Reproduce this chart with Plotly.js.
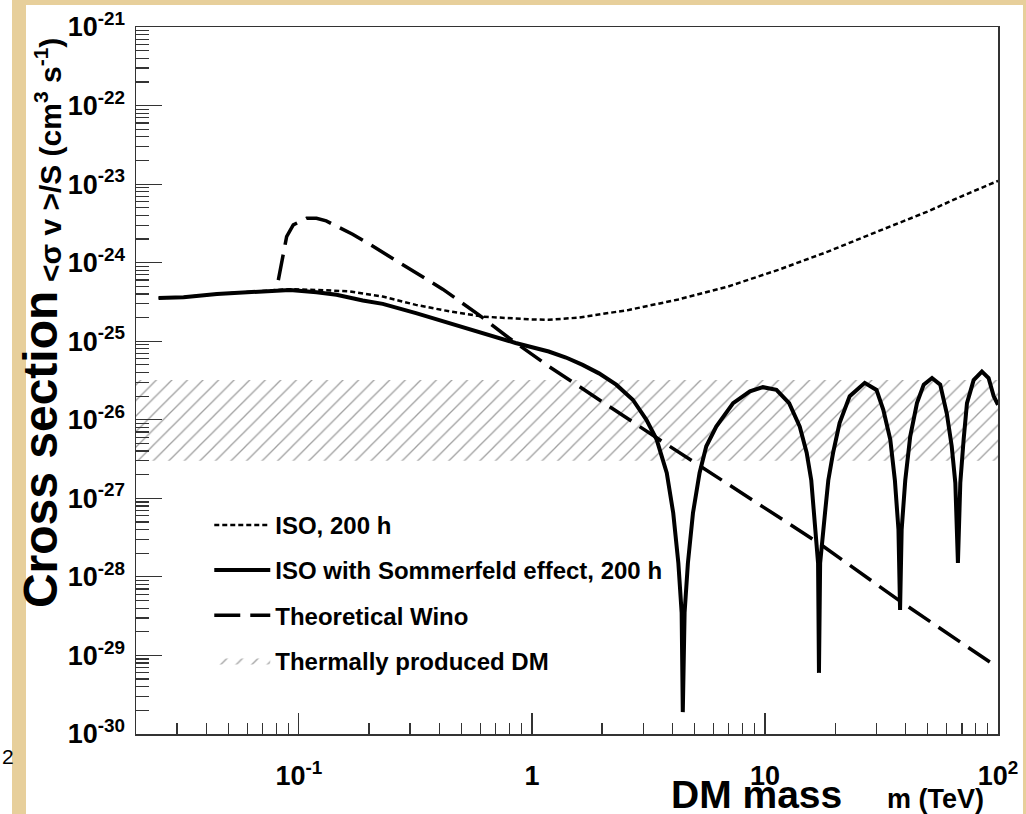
<!DOCTYPE html>
<html><head><meta charset="utf-8">
<script src="https://cdn.plot.ly/plotly-3.0.1.min.js"></script>
<style>
html,body{margin:0;padding:0;width:1026px;height:814px;overflow:hidden;background:#e7cf9b;}
#strip{position:absolute;left:0;top:0;width:12px;height:814px;background:#fff;}
#panel{position:absolute;left:26px;top:5px;width:997px;height:809px;background:#fff;}
#chart{position:absolute;left:0;top:0;width:1026px;height:814px;}
</style></head><body>
<div id="strip"></div><div id="panel"></div><div id="chart"></div>
<script>
// ---- data ----
const isoMass  = [0.025, 0.032, 0.0445, 0.0618, 0.0916, 0.119, 0.165, 0.229, 0.318, 0.442, 0.613, 0.97, 1.18, 1.59, 2.6, 4.25, 6.95, 11.4, 18.6, 30.4, 49.8, 69.0, 100];
const isoSigma = [3.56e-25, 3.64e-25, 4.0e-25, 4.25e-25, 4.6e-25, 4.5e-25, 4.3e-25, 3.7e-25, 2.9e-25, 2.4e-25, 2.06e-25, 1.9e-25, 1.87e-25, 2.0e-25, 2.5e-25, 3.4e-25, 4.97e-25, 8.1e-25, 1.38e-24, 2.49e-24, 4.47e-24, 6.9e-24, 1.1e-23];

const sommMass  = [0.025, 0.032, 0.0445, 0.0618, 0.0916, 0.119, 0.145, 0.188, 0.229, 0.318, 0.442, 0.613, 0.851, 1.18, 1.40, 1.65,
  1.94, 2.30, 2.71, 3.10, 3.43, 3.79, 4.04, 4.25, 4.39, 4.44, 4.52, 4.67, 4.91, 5.24, 5.60, 6.18, 7.30, 8.62, 9.8, 11.2, 12.7, 14.1, 15.1, 15.8, 16.3, 16.9, 17.05,
  17.25, 18.1, 18.7, 19.6, 20.9, 23.1, 26.8, 30.1, 32.2, 34.5, 36.1, 37.4, 38.0, 38.6, 40.0, 42.0, 44.9, 48.0, 52.1, 56.5, 60.3, 63.3, 65.6, 67.3,
  68.9, 71.2, 73.6, 78.6, 85.3, 91.1, 95.8, 100];
const sommSigma = [3.56e-25, 3.64e-25, 4.0e-25, 4.2e-25, 4.5e-25, 4.2e-25, 3.9e-25, 3.3e-25, 2.99e-25, 2.28e-25, 1.7e-25, 1.27e-25, 9.5e-26, 7.4e-26, 6.2e-26, 5.0e-26,
  3.9e-26, 2.8e-26, 1.8e-26, 1.0e-26, 5.6e-27, 2.1e-27, 6.5e-28, 1.5e-28, 3.5e-29, 1.9e-30, 3.5e-29, 1.5e-28, 6.5e-28, 2.1e-27, 4.6e-27, 8.2e-27, 1.63e-26, 2.3e-26, 2.6e-26, 2.4e-26, 1.63e-26, 8.2e-27, 3.8e-27, 1.7e-27, 5.4e-28, 1.5e-28, 6e-30,
  1.5e-28, 6.5e-28, 1.7e-27, 3.8e-27, 9.1e-27, 2.0e-26, 2.95e-26, 2.4e-26, 1.34e-26, 5.6e-27, 1.7e-27, 4.0e-28, 3.8e-29, 4.0e-28, 1.7e-27, 6.1e-27, 1.63e-26, 2.8e-26, 3.4e-26, 2.8e-26, 1.2e-26, 4.6e-27, 1.57e-27, 1.5e-28,
  1.57e-27, 5.6e-27, 1.63e-26, 3.2e-26, 4.1e-26, 3.4e-26, 2.0e-26, 1.55e-26];

const winoMass  = [0.0816, 0.0886, 0.0946, 0.108, 0.119, 0.131, 0.17, 0.198, 0.27, 0.318, 0.414, 0.594, 0.797, 1.18, 3.52, 17.0, 38.8, 100];
const winoSigma = [6.0e-25, 2.15e-24, 3.03e-24, 3.68e-24, 3.68e-24, 3.4e-24, 2.3e-24, 1.77e-24, 1.0e-24, 7.5e-25, 4.6e-25, 2.15e-25, 1.1e-25, 4.8e-26, 5.6e-27, 2.7e-28, 4.7e-29, 7.0e-30];

const thermalMass  = [0.02, 100];
const thermalSigma = [3e-27, 3.2e-26];

const seriesNames = ['ISO, 200 h', 'ISO with Sommerfeld effect, 200 h', 'Theoretical Wino', 'Thermally produced DM'];

const xTickVals = [0.1, 1, 10, 100];
const xTickText = ['10<sup>-1</sup>', '1', '10', '10<sup>2</sup>'];
const yTickVals = [1e-30, 1e-29, 1e-28, 1e-27, 1e-26, 1e-25, 1e-24, 1e-23, 1e-22, 1e-21];
const yTickText = ['10<sup>-30</sup>', '10<sup>-29</sup>', '10<sup>-28</sup>', '10<sup>-27</sup>', '10<sup>-26</sup>',
                   '10<sup>-25</sup>', '10<sup>-24</sup>', '10<sup>-23</sup>', '10<sup>-22</sup>', '10<sup>-21</sup>'];

// minor tick positions (axis decoration)
const minorDigits = [2, 3, 4, 5, 6, 7, 8, 9];
const xMinor = [], yMinor = [];
[-2, -1, 0, 1].forEach(e => minorDigits.forEach(d => { const v = d * Math.pow(10, e); if (v > 0.02 && v < 100) xMinor.push(v); }));
[-30, -29, -28, -27, -26, -25, -24, -23, -22].forEach(e => minorDigits.forEach(d => yMinor.push(d * Math.pow(10, e))));

const FONT = 'Liberation Sans, Arial, sans-serif';

const traces = [
  {
    name: seriesNames[3], legendrank: 4, legendgroup: 'd',
    x: [thermalMass[0], thermalMass[1], thermalMass[1], thermalMass[0], thermalMass[0]],
    y: [thermalSigma[0], thermalSigma[0], thermalSigma[1], thermalSigma[1], thermalSigma[0]],
    mode: 'lines', fill: 'toself', line: {width: 0, color: '#777'},
    fillcolor: 'rgba(255,255,255,0)',
    fillpattern: {shape: '/', fgcolor: '#a0a0a0', bgcolor: 'rgba(255,255,255,0)', size: 11, solidity: 0.12},
    hoverinfo: 'skip'
  },
  {
    name: seriesNames[0], legendrank: 1, legendgroup: 'a',
    x: isoMass, y: isoSigma, mode: 'lines',
    line: {color: '#000', width: 2.5, dash: '5px,3px'}, hoverinfo: 'skip'
  },
  {
    name: seriesNames[1], legendrank: 2, legendgroup: 'b',
    x: sommMass, y: sommSigma, mode: 'lines',
    line: {color: '#000', width: 4}, hoverinfo: 'skip'
  },
  {
    name: seriesNames[2], legendrank: 3, legendgroup: 'c',
    x: winoMass, y: winoSigma, mode: 'lines',
    line: {color: '#000', width: 3.5, dash: '26px,10px'}, hoverinfo: 'skip'
  }
];

const axisCommon = {
  type: 'log', tickmode: 'array', ticks: 'inside', tickcolor: '#333', tickwidth: 1.2,
  showline: true, linecolor: '#333', linewidth: 1.5, mirror: true,
  showgrid: false, zeroline: false,
  tickfont: {family: FONT, size: 27, weight: 'bold', color: '#000'}
};

const layout = {
  width: 1026, height: 814,
  margin: {l: 136, r: 28, t: 27, b: 80, pad: 0},
  paper_bgcolor: 'rgba(0,0,0,0)', plot_bgcolor: '#fff',
  showlegend: true,
  legend: {
    x: 0.085, y: 0.327, xanchor: 'left', yanchor: 'top',
    bgcolor: 'rgba(0,0,0,0)', borderwidth: 0,
    font: {family: FONT, size: 24, weight: 'bold', color: '#000'},
    traceorder: 'grouped', tracegroupgap: 11, itemwidth: 56
  },
  xaxis: Object.assign({}, axisCommon, {
    range: [Math.log10(0.02), 2], tickvals: xTickVals, ticktext: xTickText,
    ticklen: 21, ticklabelstandoff: 17,
    minor: {tickmode: 'array', tickvals: xMinor, ticks: 'inside', ticklen: 11, tickcolor: '#333', tickwidth: 1.2, showgrid: false}
  }),
  yaxis: Object.assign({}, axisCommon, {
    range: [-30, -21], tickvals: yTickVals, ticktext: yTickText,
    ticklen: 26, ticklabelstandoff: 4,
    minor: {tickmode: 'array', tickvals: yMinor, ticks: 'inside', ticklen: 13, tickcolor: '#333', tickwidth: 1.2, showgrid: false}
  }),
  annotations: [
    {text: 'Cross section', xref: 'paper', yref: 'paper', x: -0.111, y: 0.402, xanchor: 'center', yanchor: 'middle',
     textangle: -90, showarrow: false, font: {family: FONT, size: 48, weight: 'bold', color: '#000'}},
    {text: '&lt;σ v &gt;/S (cm<sup>3</sup> s<sup>-1</sup>)', xref: 'paper', yref: 'paper', x: -0.102, y: 0.812, xanchor: 'center', yanchor: 'middle',
     textangle: -90, showarrow: false, font: {family: FONT, size: 30, weight: 'bold', color: '#000'}},
    {text: 'DM mass', xref: 'paper', yref: 'paper', x: 0.7204, y: -0.086, xanchor: 'center', yanchor: 'middle',
     showarrow: false, font: {family: FONT, size: 39, weight: 'bold', color: '#000'}},
    {text: 'm (TeV)', xref: 'paper', yref: 'paper', x: 0.928, y: -0.092, xanchor: 'center', yanchor: 'middle',
     showarrow: false, font: {family: FONT, size: 27, weight: 'bold', color: '#000'}},
    {text: '2', xref: 'paper', yref: 'paper', x: -0.158, y: -0.032, xanchor: 'left', yanchor: 'middle',
     showarrow: false, font: {family: FONT, size: 21, color: '#000'}}
  ]
};

Plotly.newPlot('chart', traces, layout, {displayModeBar: false, staticPlot: true});
</script></body></html>
